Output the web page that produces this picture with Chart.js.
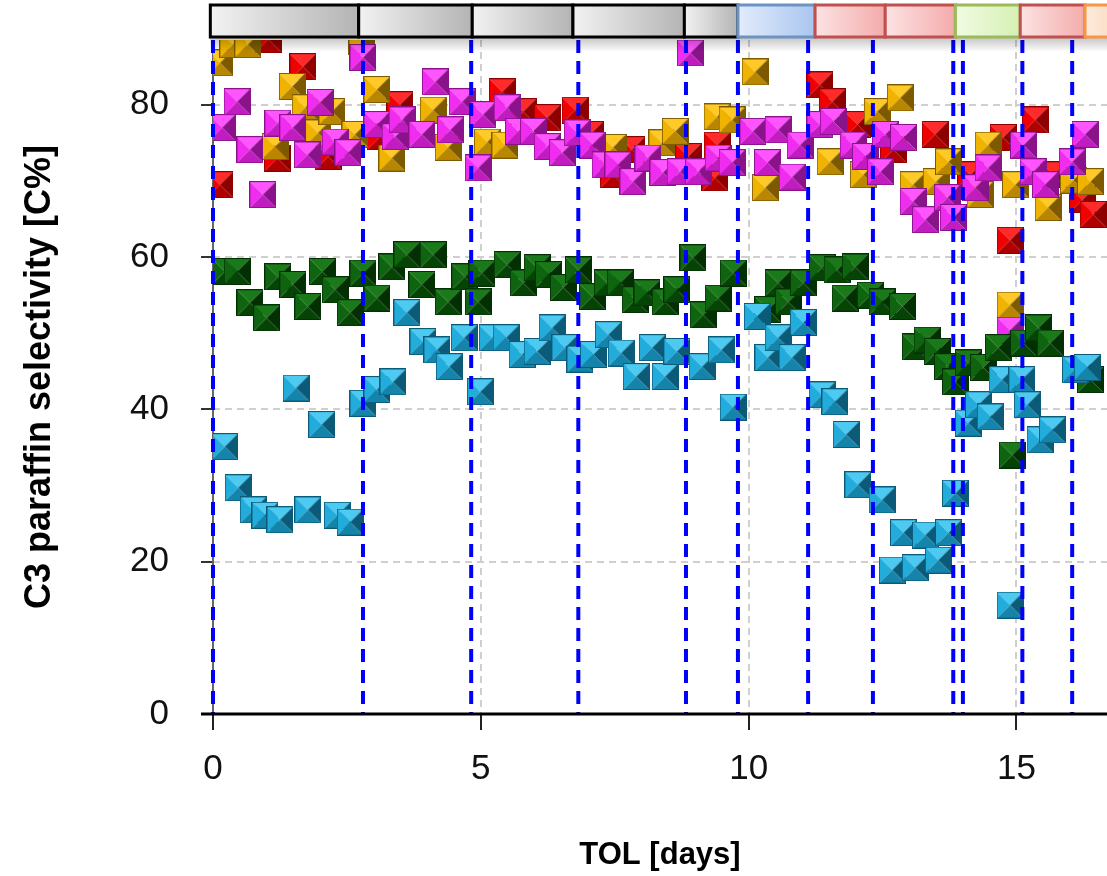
<!DOCTYPE html>
<html>
<head>
<meta charset="utf-8">
<script src="https://cdn.jsdelivr.net/npm/chart.js@4.4.1/dist/chart.umd.min.js"></script>
<style>
  html, body { margin: 0; padding: 0; background: #fff; }
  canvas { display: block; }
</style>
</head>
<body>
<canvas id="sel" width="1107" height="876"></canvas>
<script>
// C3 paraffin selectivity vs time on line, five catalyst series
const redX = [0.13, 1.03, 1.2, 1.68, 2.15, 3.12, 3.49, 5.4, 5.79, 6.24, 6.76, 7.04, 7.47, 7.82, 8.87, 9.37, 9.41, 11.33, 11.56, 12.03, 12.7, 13.48, 14.14, 14.75, 14.88, 15.35, 15.69, 16.23, 16.43];
const redY = [69.5, 88.6, 73.0, 85.0, 73.2, 75.8, 80.0, 81.7, 79.1, 78.3, 79.3, 76.1, 70.8, 74.1, 73.2, 70.4, 74.7, 82.6, 80.4, 77.4, 74.1, 76.1, 70.8, 75.7, 62.2, 78.0, 70.8, 67.5, 65.6];

const goldX = [0.13, 0.37, 0.65, 1.16, 1.48, 1.72, 1.96, 2.22, 2.65, 2.78, 3.06, 3.34, 4.11, 4.39, 5.12, 5.45, 7.47, 8.38, 8.63, 9.41, 9.69, 10.12, 10.31, 11.52, 12.14, 12.4, 12.83, 13.07, 13.5, 13.73, 14.32, 14.47, 14.88, 14.98, 15.59, 16.06, 16.38];
const goldY = [85.5, 87.9, 87.9, 74.5, 82.4, 79.6, 76.3, 79.1, 76.1, 88.3, 82.0, 73.0, 79.3, 74.4, 75.1, 74.7, 74.4, 75.0, 76.5, 78.4, 78.0, 84.3, 69.1, 72.5, 70.8, 79.1, 80.9, 69.5, 69.9, 72.5, 68.2, 74.7, 53.7, 69.5, 66.5, 70.1, 69.9];

const magX = [0.17, 0.45, 0.69, 0.93, 1.21, 1.49, 1.76, 2.0, 2.28, 2.52, 2.8, 3.06, 3.4, 3.53, 3.9, 4.15, 4.43, 4.65, 4.95, 5.04, 5.49, 5.7, 5.98, 6.24, 6.52, 6.8, 7.08, 7.32, 7.56, 7.84, 8.12, 8.4, 8.72, 8.91, 9.06, 9.43, 9.69, 10.08, 10.35, 10.55, 10.81, 10.96, 11.33, 11.58, 11.95, 12.18, 12.46, 12.55, 12.89, 13.07, 13.3, 13.71, 13.82, 14.23, 14.47, 14.88, 15.13, 15.31, 15.54, 16.04, 16.28];
const magY = [77.0, 80.4, 74.1, 68.2, 77.6, 77.0, 73.4, 80.3, 75.1, 73.7, 86.2, 77.4, 75.8, 78.0, 76.1, 83.0, 76.7, 80.4, 71.7, 78.7, 79.6, 76.5, 76.5, 74.5, 73.7, 76.3, 74.7, 72.1, 72.1, 69.9, 73.0, 71.1, 71.2, 86.8, 71.2, 73.0, 72.4, 76.5, 72.4, 76.7, 70.5, 74.7, 77.4, 77.8, 74.7, 73.2, 71.2, 76.1, 75.7, 67.3, 64.9, 67.8, 65.2, 69.1, 71.7, 50.4, 74.7, 71.2, 69.5, 72.5, 76.1];

const greenX = [0.22, 0.45, 0.69, 1.0, 1.21, 1.49, 1.77, 2.04, 2.28, 2.56, 2.8, 3.06, 3.34, 3.62, 3.9, 4.11, 4.39, 4.7, 4.95, 5.02, 5.49, 5.79, 6.05, 6.26, 6.54, 6.82, 7.08, 7.36, 7.6, 7.88, 8.1, 8.44, 8.66, 8.96, 9.15, 9.43, 9.71, 10.36, 10.55, 10.74, 11.02, 11.37, 11.65, 11.8, 11.99, 12.27, 12.49, 12.87, 13.11, 13.33, 13.52, 13.71, 13.86, 14.1, 14.38, 14.66, 14.92, 15.13, 15.41, 15.63, 16.13, 16.38];
const greenY = [58.1, 58.1, 54.0, 52.0, 57.4, 56.4, 53.5, 58.1, 55.7, 52.7, 57.9, 54.6, 58.7, 60.3, 56.4, 60.3, 54.1, 57.4, 54.1, 57.9, 59.0, 56.6, 58.6, 57.7, 56.0, 58.3, 54.8, 56.6, 56.6, 54.4, 55.3, 54.1, 55.7, 59.9, 52.4, 54.6, 57.9, 53.1, 56.6, 54.1, 56.6, 58.6, 58.3, 54.6, 58.7, 55.0, 54.1, 53.5, 48.2, 49.1, 47.6, 45.6, 43.6, 46.1, 45.5, 48.1, 34.0, 48.7, 50.7, 48.7, 45.2, 43.9];

const cyanX = [0.22, 0.47, 0.75, 0.97, 1.25, 1.55, 1.77, 2.03, 2.32, 2.56, 2.8, 3.06, 3.36, 3.62, 3.92, 4.18, 4.41, 4.69, 4.99, 5.21, 5.47, 5.77, 6.05, 6.33, 6.57, 6.85, 7.1, 7.38, 7.62, 7.9, 8.2, 8.44, 8.66, 9.13, 9.49, 9.71, 10.16, 10.36, 10.55, 10.81, 11.02, 11.37, 11.61, 11.82, 12.04, 12.49, 12.68, 12.89, 13.11, 13.3, 13.54, 13.73, 13.86, 14.1, 14.29, 14.51, 14.73, 14.88, 15.1, 15.2, 15.44, 15.67, 16.1, 16.32];
const cyanY = [35.1, 29.7, 26.8, 26.1, 25.5, 42.8, 26.8, 38.0, 26.1, 25.2, 40.8, 42.6, 43.6, 52.7, 48.9, 47.8, 45.6, 49.4, 42.3, 49.4, 49.4, 47.2, 47.6, 50.7, 48.1, 46.6, 47.2, 49.8, 47.4, 44.3, 48.1, 44.3, 47.6, 45.6, 47.8, 40.3, 52.2, 46.8, 49.4, 46.8, 51.4, 41.9, 41.0, 36.7, 30.1, 28.1, 18.9, 23.8, 19.2, 23.5, 20.2, 23.8, 29.0, 38.2, 40.6, 39.0, 43.9, 14.3, 43.9, 40.6, 36.0, 37.3, 45.2, 45.5];

// blue dashed event lines (days)
const eventDays = [0, 2.8, 4.82, 6.82, 8.83, 9.8, 11.11, 12.32, 13.82, 14.0, 15.11, 16.04];

// top condition band: segment edges (days) and kinds
const bandEdges = [-0.05, 2.72, 4.84, 6.72, 8.8, 9.8, 11.24, 12.55, 13.86, 15.07, 16.28, 17.5];
const bandKinds = ['gray', 'gray', 'gray', 'gray', 'gray', 'blue', 'red', 'red', 'green', 'red', 'orange'];

const xTicks = [0, 5, 10, 15];
const yTicks = [0, 20, 40, 60, 80];

const bandStyle = {
  gray:   { a: '#f2f2f2', b: '#b4b4b4', line: '#000000' },
  blue:   { a: '#e2ecfb', b: '#a9c5ef', line: '#6b93c4' },
  red:    { a: '#fde3e3', b: '#f4abab', line: '#c0504d' },
  green:  { a: '#f2fbe4', b: '#d5f0b2', line: '#9bbb59' },
  orange: { a: '#fdebdc', b: '#f8c9a4', line: '#f79646' }
};

function pyramid(c) {
  const s = 27, m = s / 2;
  const cv = document.createElement('canvas');
  cv.width = s; cv.height = s;
  const g = cv.getContext('2d');
  const tri = (pts, col) => {
    g.fillStyle = col;
    g.beginPath();
    g.moveTo(pts[0][0], pts[0][1]);
    g.lineTo(pts[1][0], pts[1][1]);
    g.lineTo(m, m);
    g.closePath();
    g.fill();
  };
  tri([[0, 0], [s, 0]], c.top);
  tri([[0, 0], [0, s]], c.left);
  tri([[s, 0], [s, s]], c.right);
  tri([[0, s], [s, s]], c.bottom);
  g.strokeStyle = c.right;
  g.lineWidth = 1;
  g.strokeRect(0.5, 0.5, s - 1, s - 1);
  return cv;
}

const mk = {
  red:   pyramid({ top: '#ff2a2a', left: '#f00000', right: '#8e0000', bottom: '#b00000' }),
  gold:  pyramid({ top: '#ffc928', left: '#f0b400', right: '#7d5a00', bottom: '#b98600' }),
  mag:   pyramid({ top: '#ff55ff', left: '#f02cf0', right: '#8a128a', bottom: '#c01cc0' }),
  green: pyramid({ top: '#1a7a1a', left: '#0f650f', right: '#023002', bottom: '#064406' }),
  cyan:  pyramid({ top: '#4ccaf2', left: '#22acdc', right: '#0a5a78', bottom: '#1584ab' })
};

const pts = (xs, ys) => xs.map((v, i) => ({ x: v, y: ys[i] }));

const ds = (label, xs, ys, img) => ({
  label, data: pts(xs, ys), pointStyle: img, pointRadius: 13, pointHoverRadius: 13
});

const overlay = {
  id: 'overlay',
  beforeDatasetsDraw(chart) {
    const { ctx, chartArea: a } = chart;
    ctx.save();
    ctx.strokeStyle = '#666';
    ctx.lineWidth = 2;
    ctx.beginPath();
    ctx.moveTo(a.left, a.top);
    ctx.lineTo(a.left, a.bottom);
    ctx.stroke();
    ctx.restore();
  },
  afterDatasetsDraw(chart) {
    const { ctx, chartArea: a, scales: { x } } = chart;
    ctx.save();
    ctx.strokeStyle = '#0000ff';
    ctx.lineWidth = 4;
    ctx.setLineDash([13, 8]);
    eventDays.forEach(d => {
      const px = x.getPixelForValue(d);
      ctx.beginPath();
      ctx.moveTo(px, a.top);
      ctx.lineTo(px, a.bottom);
      ctx.stroke();
    });
    ctx.setLineDash([]);
    // x axis line
    ctx.strokeStyle = '#000';
    ctx.lineWidth = 3;
    ctx.beginPath();
    ctx.moveTo(a.left - 12, a.bottom);
    ctx.lineTo(a.right, a.bottom);
    ctx.stroke();

    // band shadow
    const sh = ctx.createLinearGradient(0, 38, 0, 52);
    sh.addColorStop(0, 'rgba(0,0,0,0.22)');
    sh.addColorStop(1, 'rgba(0,0,0,0)');
    ctx.fillStyle = sh;
    ctx.fillRect(x.getPixelForValue(bandEdges[0]), 38, a.right, 14);

    // band boxes
    for (let i = 0; i < bandKinds.length; i++) {
      const st = bandStyle[bandKinds[i]];
      const x0 = x.getPixelForValue(bandEdges[i]);
      const x1 = x.getPixelForValue(bandEdges[i + 1]);
      const gr = ctx.createLinearGradient(x0, 0, x1, 0);
      gr.addColorStop(0, st.a);
      gr.addColorStop(1, st.b);
      ctx.fillStyle = gr;
      ctx.fillRect(x0, 5, x1 - x0, 32);
      ctx.strokeStyle = st.line;
      ctx.lineWidth = 3;
      ctx.strokeRect(x0, 5, x1 - x0, 32);
    }
    ctx.restore();
  }
};

const ctx = document.getElementById('sel');
const chart = new Chart(ctx, {
  type: 'scatter',
  data: {
    datasets: [
      ds('cyan', cyanX, cyanY, mk.cyan),
      ds('green', greenX, greenY, mk.green),
      ds('magenta', magX, magY, mk.mag),
      ds('gold', goldX, goldY, mk.gold),
      ds('red', redX, redY, mk.red)
    ]
  },
  options: {
    responsive: false,
    animation: false,
    layout: { autoPadding: false, padding: { top: 40, right: 0, bottom: 0, left: 0 } },
    plugins: {
      legend: { display: false },
      tooltip: { enabled: false }
    },
    scales: {
      x: {
        type: 'linear',
        min: 0,
        max: 16.69,
        afterFit: s => { s.height = 162; s.paddingLeft = 0; s.paddingRight = 0; },
        afterBuildTicks: s => { s.ticks = xTicks.map(v => ({ value: v })); },
        ticks: {
          color: '#111',
          font: { family: 'Liberation Sans, Arial', size: 35 },
          padding: 18,
          maxRotation: 0
        },
        grid: {
          color: '#cfcfcf',
          lineWidth: 2,
          tickLength: 16,
          tickColor: '#222',
          tickWidth: 2,
          tickBorderDash: []
        },
        border: { display: false, dash: [7, 5] },
        title: {
          display: true,
          text: 'TOL [days]',
          color: '#000',
          font: { family: 'Liberation Sans, Arial', size: 31, weight: 'bold' },
          padding: { top: 0, bottom: 2 }
        }
      },
      y: {
        min: 0,
        max: 88.5,
        afterFit: s => { s.width = 213; s.paddingTop = 0; s.paddingBottom = 0; },
        afterBuildTicks: s => { s.ticks = yTicks.map(v => ({ value: v })); },
        ticks: {
          color: '#111',
          font: { family: 'Liberation Sans, Arial', size: 35 },
          padding: 32
        },
        grid: {
          color: '#cfcfcf',
          lineWidth: 2,
          tickLength: 12,
          tickColor: '#333',
          tickWidth: 2,
          tickBorderDash: []
        },
        border: { display: false, dash: [7, 5] },
        title: {
          display: true,
          text: 'C3 paraffin selectivity [C%]',
          color: '#000',
          font: { family: 'Liberation Sans, Arial', size: 36, weight: 'bold' },
          padding: { top: 18, bottom: 0 }
        }
      }
    }
  },
  plugins: [overlay]
});
</script>
</body>
</html>
